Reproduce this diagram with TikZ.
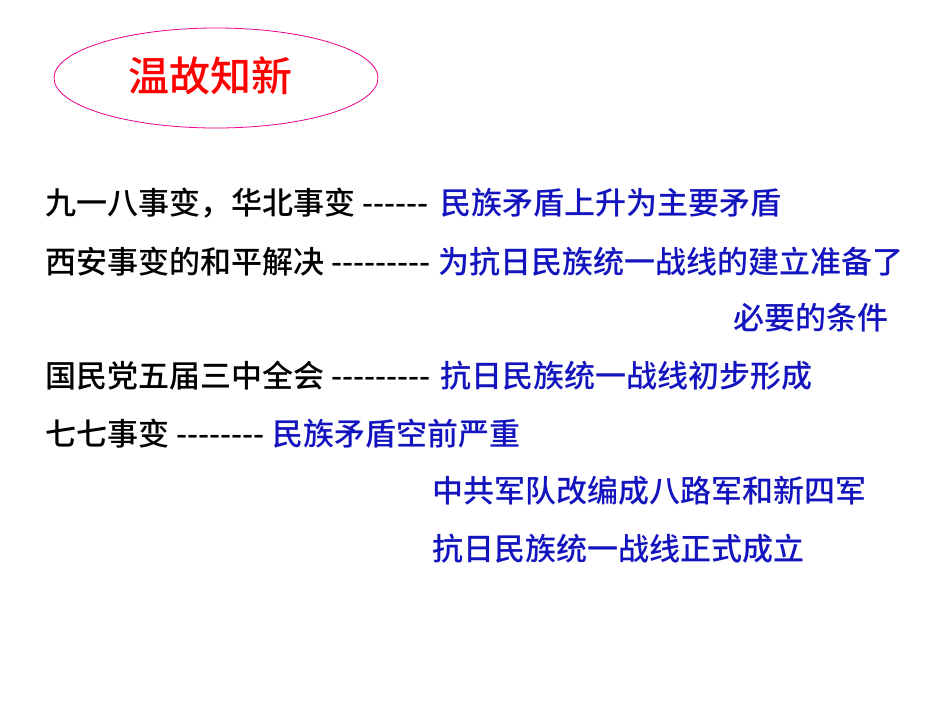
\documentclass[tikz,border=0pt]{standalone}
\usepackage{fontspec}
\newfontfamily\cjk{Noto Sans CJK SC}[BoldFont={Noto Sans CJK SC Medium}]
\usetikzlibrary{shapes.geometric}
\definecolor{tblue}{RGB}{20,20,190}
\begin{document}
\begin{tikzpicture}[x=1pt,y=-1pt,
  txt/.style={anchor=west,inner sep=0pt,font=\cjk\bfseries\fontsize{31}{33}\selectfont},
  bl/.style={txt,text=tblue}]
\useasboundingbox (0,0) rectangle (950,713);
\node[ellipse,draw=magenta,line width=0.8pt,minimum width=324pt,minimum height=100pt] (e) at (216,78) {};
\node[anchor=center,text=red,font=\cjk\bfseries\fontsize{41}{43}\selectfont] (t) at (210,76) {温故知新};
\node[txt] (a1) at (45,203) {九一八事变，华北事变 ------};
\node[bl] (b1) at (440,203) {民族矛盾上升为主要矛盾};
\node[txt] (a2) at (45,262) {西安事变的和平解决 ---------};
\node[bl] (b2) at (438,262) {为抗日民族统一战线的建立准备了};
\node[bl] (b2b) at (733,318) {必要的条件};
\node[txt] (a3) at (45,376) {国民党五届三中全会 ---------};
\node[bl] (b3) at (440,376) {抗日民族统一战线初步形成};
\node[txt] (a4) at (45,434) {七七事变 --------};
\node[bl] (b4) at (272,434) {民族矛盾空前严重};
\node[bl] (b5) at (432,491) {中共军队改编成八路军和新四军};
\node[bl] (b6) at (432,549) {抗日民族统一战线正式成立};
\end{tikzpicture}
\end{document}
